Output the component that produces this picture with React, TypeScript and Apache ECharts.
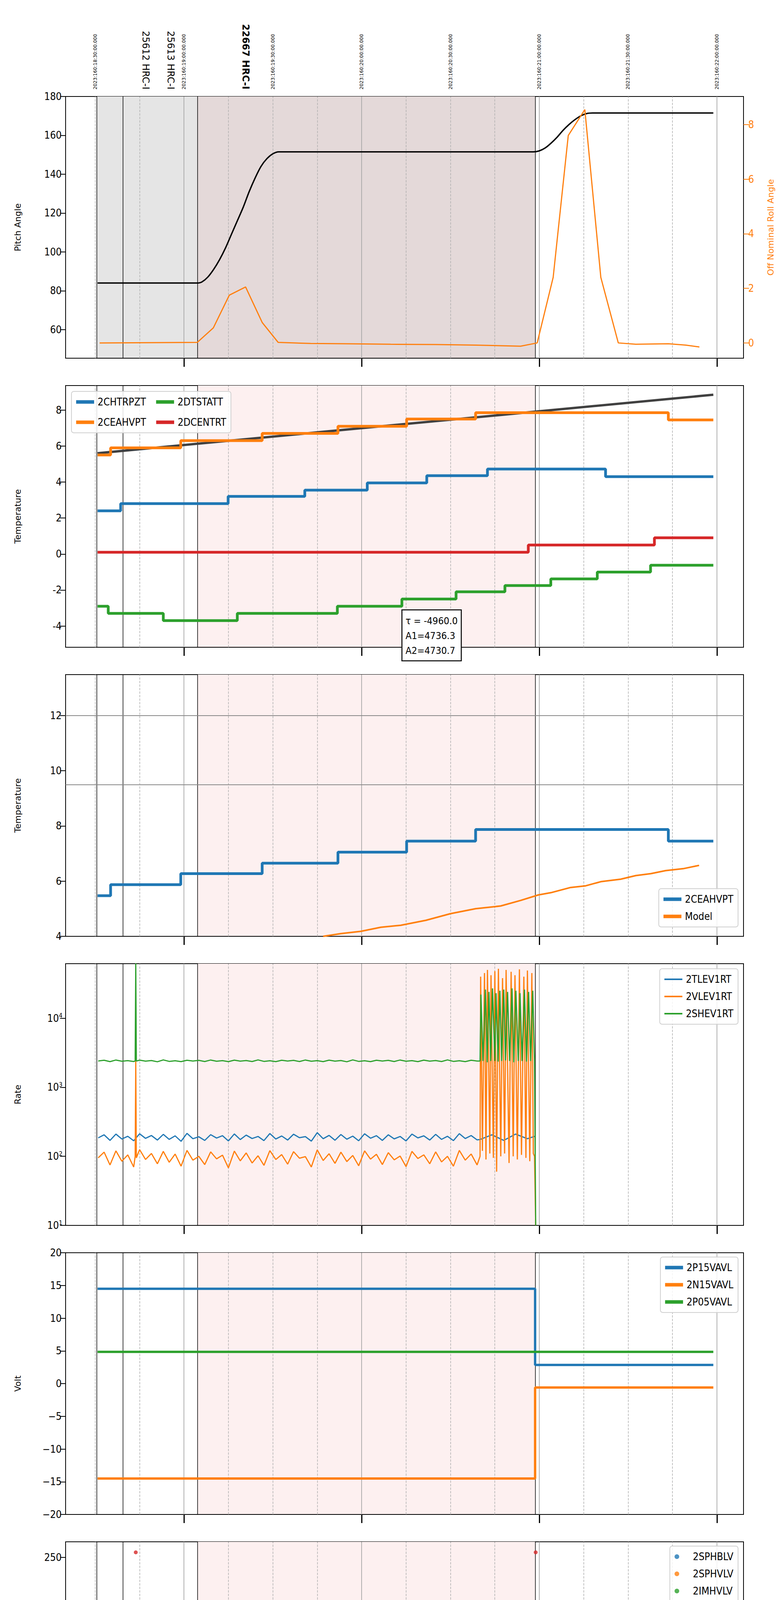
import React, { useEffect, useRef } from "react";
import * as echarts from "echarts";

// ---- time: minutes since 2023:160:18:00 UTC ----
const X_MIN = 20;
const X_MAX = 249;
const T_START = 30.8;
const T_END = 238.8;
const OBS_LINES = [30.5, 39.3, 64.6, 178.6];
const DASH_LINES = [30, 45, 75, 90, 105, 135, 150, 165, 195, 210, 225];
const HOUR_LINES = [60, 120, 180, 240];
const TOP_DATE_TICKS = [30, 60, 90, 120, 150, 180, 210, 240];
const OBS_LABEL_POS = [47, 55.5, 80.8];
const OBS_LABELS = ["25612 HRC-I", "25613 HRC-I", "22667 HRC-I"];
const BOTTOM_TICKS = [30, 45, 60, 75, 90, 105, 120, 135, 150, 165, 180, 195, 210, 225, 240];

// panel 1
const PITCH = [[30.8, 84], [64.6, 84], [66, 84.5], [68, 87], [70, 91], [72, 96], [74, 102], [76, 109], [78, 116], [80, 123], [82, 131], [84, 138], [86, 144], [88, 148], [90, 150.5], [92, 151.5], [178, 151.5], [180, 152], [182, 153.5], [184, 156], [186, 159], [188, 162.5], [190, 165.5], [192, 168], [194, 170], [196, 171.2], [198, 171.5], [238.8, 171.5]];
const ROLL = [[31.5, 0.0], [64.5, 0.02], [69.9, 0.55], [75.3, 1.75], [80.8, 2.05], [86.4, 0.75], [91.8, 0.02], [102.8, -0.02], [114.6, -0.03], [129.8, -0.05], [145, -0.06], [158.5, -0.08], [173.7, -0.12], [179.3, 0.0], [184.7, 2.4], [189.8, 7.6], [195.4, 8.55], [200.8, 2.4], [206.7, 0.0], [212.6, -0.05], [223.6, -0.03], [229.5, -0.08], [234.1, -0.15]];

// panel 2
const CHTRPZT_T = [30.8, 38.6, 74.9, 100.8, 121.9, 142, 162.5, 202.4];
const CHTRPZT_V = [2.4, 2.8, 3.2, 3.55, 3.95, 4.35, 4.72, 4.3];
const CEAHVPT_T = [30.8, 35.2, 58.9, 86.4, 112, 135.2, 158.5, 223.6];
const CEAHVPT_V = [5.5, 5.9, 6.3, 6.7, 7.1, 7.5, 7.85, 7.45];
const DTSTATT_T = [30.8, 34.4, 53, 78, 111.8, 133.6, 151.9, 168.4, 183.9, 199.6, 217.6];
const DTSTATT_V = [-2.9, -3.3, -3.7, -3.3, -2.9, -2.5, -2.1, -1.75, -1.38, -1.0, -0.62];
const DCENTRT_T = [30.8, 176.3, 218.9];
const DCENTRT_V = [0.1, 0.5, 0.9];
const FIT_LINE = [[30.8, 5.6], [238.8, 8.85]];

// panel 3
const CEAHVPT2_V = [5.47, 5.87, 6.27, 6.65, 7.05, 7.45, 7.87, 7.45];
const MODEL = [[107, 4.0], [113, 4.1], [119.7, 4.18], [126.5, 4.33], [133.2, 4.4], [141.7, 4.58], [150, 4.82], [158.5, 5.0], [167, 5.1], [173.7, 5.3], [179.7, 5.5], [183.9, 5.58], [190.6, 5.77], [195.7, 5.83], [200.8, 5.98], [207.5, 6.07], [212.6, 6.2], [217.7, 6.27], [222.7, 6.38], [228.6, 6.45], [234, 6.57]];

// panel 4 (2-min samples from 31 min)
const TLEV_BASE = [185, 205, 170, 210, 178, 195, 168, 212, 182, 200, 172, 208, 176, 198, 165, 215, 180, 192, 170, 206, 184, 199, 167, 211, 175, 203, 181, 194, 169, 214, 178, 197, 172, 209, 186, 193, 166, 220, 180, 201, 171, 207, 177, 196, 168, 212, 183, 199, 170, 205, 179, 194, 167, 210, 185, 198, 172, 208, 176, 195, 169, 213, 181, 200, 173, 206, 178, 192, 166, 211, 184, 197, 171, 204, 180];
const VLEV_BASE = [95, 115, 75, 120, 85, 105, 70, 125, 90, 110, 78, 118, 82, 108, 72, 122, 88, 100, 76, 116, 92, 104, 68, 119, 86, 112, 80, 102, 74, 121, 90, 106, 77, 117, 94, 99, 70, 124, 87, 109, 79, 115, 84, 103, 73, 120, 91, 107, 76, 113, 89, 101, 71, 118, 93, 105, 78, 116, 83, 100, 72, 122, 88, 108, 75];
const SHEV_BASE = [2400, 2460, 2350, 2480, 2380, 2430, 2360, 2470, 2390, 2440, 2340, 2490, 2370, 2420, 2350, 2460, 2400, 2450, 2360, 2480, 2380, 2430, 2350, 2470, 2390, 2440, 2360, 2490, 2370, 2420, 2350, 2460, 2400, 2450, 2360, 2480, 2380, 2430, 2350, 2470, 2390, 2440, 2340, 2490, 2370, 2420, 2350, 2460, 2400, 2450, 2360, 2480, 2380, 2430, 2350, 2470, 2390, 2440, 2360, 2490, 2370, 2420, 2350, 2460, 2400];
const VLEV_SPIKE = [[43.5, 100], [43.7, 2500], [43.9, 95]];
const SHEV_SPIKE = [[43.5, 2400], [43.7, 62000], [43.9, 2400]];
const VLEV_TAIL = [[160, 100], [160.2, 40000], [160.8, 120], [161.5, 45000], [162, 90], [162.5, 50000], [163.3, 110], [163.7, 42000], [164.5, 95], [165, 48000], [165.6, 60], [166.2, 52000], [167, 100], [167.6, 38000], [168.3, 110], [168.8, 50000], [169.8, 80], [170.5, 47000], [171.2, 100], [171.8, 42000], [172.6, 90], [173.3, 51000], [174, 105], [174.8, 40000], [175.5, 95], [176, 49000], [176.8, 85], [177.5, 45000], [178, 110], [178.4, 100], [178.8, 10]];
const SHEV_TAIL = [[160, 2400], [160.3, 22000], [161, 2400], [161.8, 26000], [162.4, 2300], [163, 24000], [163.6, 2400], [164.2, 27000], [165, 2400], [165.4, 23000], [166.1, 2350], [166.7, 25000], [167.3, 2400], [168, 26000], [168.6, 2450], [169.3, 24000], [170, 2400], [170.8, 27000], [171.4, 2300], [172.1, 25000], [172.9, 2400], [173.5, 23000], [174.2, 2400], [175, 26000], [175.7, 2350], [176.4, 24000], [177.1, 2400], [177.8, 25000], [178.4, 2400], [178.8, 10]];
const TLEV_TAIL = [[160, 175], [164, 205], [168, 170], [172, 210], [176, 180], [178.5, 195]];

// panel 5
const P15_T = [30.8, 178.6];
const P15_V = [14.5, 2.85];
const N15_T = [30.8, 178.6];
const N15_V = [-14.5, -0.6];
const P05_T = [30.8];
const P05_V = [4.85];

// panel 6
const IMHBLV_LINE = [[30.8, 86], [178.6, 86]];
const IMHVLV_LINE = [[30.8, 79], [178.6, 79]];
const IMHBLV_PTS = [[43.7, 255], [178.8, 255], [160, 79], [166.5, 79], [173.2, 79], [177, 79]];
const IMHVLV_PTS = [[160, 127], [177, 127]];

// panel 7
const OSC_T = [160, 160.8, 161.6, 162.2, 163, 163.8, 164.5, 165.3, 166, 166.9, 167.6, 168.4, 169.1, 170, 170.7, 171.5, 172.3, 173.1, 173.8, 174.6, 175.4, 176.2, 177, 177.8];
const IMHVATM_T = [30.8, 40.3, 53, 68.7, 85.9, 105.3, 126, 146.2];
const IMHVATM_V = [15.25, 15.55, 15.8, 16.1, 16.35, 16.65, 16.95, 17.25];
const IMHVATM_OSC = [17.55, 15.8, 17.55, 15.8, 17.55, 15.8, 17.55, 15.8, 17.55, 15.8, 17.55, 15.8, 17.55, 15.8, 17.55, 15.8, 17.55, 15.8, 17.55, 15.8, 17.55, 15.8, 17.55, 17.55];
const SPHVATM_T = [30.8, 42.3, 61.8, 84.2, 108.7, 130.7, 151];
const SPHVATM_V = [14.15, 14.45, 14.7, 14.95, 15.25, 15.55, 15.85];
const SPHVATM_OSC = [10.9, 15.85, 10.9, 15.85, 10.9, 15.85, 10.9, 15.85, 10.9, 15.85, 10.9, 15.85, 10.9, 15.85, 10.9, 15.85, 0, 15.85, 10.9, 15.85, 10.9, 15.85, 10.9, 16.1];
const SPINATM_T = [30.8, 39.1, 55.2];
const SPINATM_V = [3.7, 3.25, 2.8];
const SPINATM_OSC = [0, 2.8, 0, 3.25, 0, 3.25, 0, 3.25, 0, 3.25, 0, 3.25, 0, 3.25, 0, 3.25, 0, 3.25, 0, 3.25, 0, 3.25, 0, 3.25];
const IMINATM_T = [30.8, 110.4];
const IMINATM_V = [1.05, 1.5];
const IMINATM_OSC = [3.25, 0, 1.5, 3.25, 0, 3.25, 1.5, 0, 3.25, 1.5, 3.25, 0, 3.25, 1.5, 0, 3.25, 1.5, 0, 3.25, 1.5, 3.25, 0, 3.25, 1.5];
const DET_RED_DROPS = [[[43.7, 15.55], [43.7, -1]], [[179, -1], [179, 19]]];
const DET_ORANGE_DROP = [[172.9, 15.85], [172.9, 0]];

// panel 8
const FHTRMZT_T = [30.8, 32.7, 42.3, 52.5, 63.1, 74.4, 85.1, 94.9, 103.6, 112.6, 120.9, 129.3, 138.3, 147.1, 156, 165, 174.6, 187.6, 192.7, 223.9];
const FHTRMZT_V = [-6.4, -6.0, -5.6, -5.2, -4.8, -4.45, -4.05, -3.65, -3.3, -2.9, -2.5, -2.1, -1.75, -1.38, -1.0, -0.6, -0.25, 0.15, -0.22, -0.6];
const FRADPYT_T = [30.8, 34.7, 45.9, 57.5, 69.5, 80.5, 87.1, 93.5, 98.9, 105.3, 111.8, 118.9, 126.5, 134.6, 143.7, 152.6, 161.6, 171.2, 202.5, 228.4];
const FRADPYT_V = [-8.8, -8.4, -8.0, -7.6, -7.2, -6.8, -6.4, -6.0, -5.6, -5.2, -4.8, -4.4, -4.05, -3.65, -3.3, -2.9, -2.5, -2.15, -2.5, -2.9];
const FEPRATM_T = [30.8, 35.2, 45.4, 56, 66.5, 79.2, 91, 102.8, 113.8, 124.4, 135.4, 145.9, 156.9];
const FEPRATM_V = [-3.05, -2.65, -2.25, -1.85, -1.45, -1.0, -0.6, -0.2, 0.2, 0.6, 1.05, 1.5, 1.9];
const FEPRATM_OSC = [-4.65, 2.35, -4.65, 2.35, -4.65, 2.35, -4.65, 2.35, -4.65, 2.35, -4.65, 2.35, -4.65, 2.35, -4.65, 2.35, -4.65, 2.35, -4.65, 2.35, -4.65, 2.35, -4.65, 2.35];
const FE00ATM_T = [30.8, 34.4, 41.7, 49.6, 57.5, 66.5, 75.8, 84.8, 92.7, 99.8, 107.9, 114.3, 120.6, 128.2, 135, 142.6, 150.6, 156.9];
const FE00ATM_V = [-3.5, -3.15, -2.8, -2.45, -2.1, -1.8, -1.45, -1.1, -0.8, -0.45, -0.15, 0.15, 0.5, 0.8, 1.1, 1.45, 1.75, 2.05];
const FE00ATM_OSC = [2.6, 2.2, 2.6, 2.3, 2.6, 2.2, 2.6, 2.3, 2.6, 2.2, 2.6, 2.3, 2.6, 2.2, 2.6, 2.3, 2.6, 2.2, 2.6, 2.3, 2.6, 2.2, 2.6, 2.6];
const FEA_RED_DROPS = [[[43.7, -2.8], [43.7, -10]], [[165.8, 2.4], [165.8, -10]], [[172.9, 2.4], [172.9, -10]], [[179, -10], [179, 3]]];

const C = { blue: "#1f77b4", orange: "#ff7f0e", green: "#2ca02c", red: "#d62728" };
const CF = "DejaVu Sans Condensed, DejaVu Sans, sans-serif";
const SF = "DejaVu Sans, sans-serif";

const GRID_TOPS = [247, 987, 1727, 2467, 3207, 3947, 4687, 5427];
const GRID_H = 670;

function steps(ts: number[], vs: number[], osc?: number[]) {
  const d: number[][] = ts.map((t, i) => [t, vs[i]]);
  if (osc) {
    OSC_T.forEach((t, i) => d.push([t, osc[i]]));
    d.push([178.3, osc[osc.length - 1]]);
  } else {
    d.push([T_END, vs[vs.length - 1]]);
  }
  return d;
}

function rateSeries(base: number[], spike: number[][], tail: number[][]) {
  const d: number[][] = [];
  base.forEach((v, i) => {
    const t = 31 + 2 * i;
    if (t < 160) d.push([t, v]);
  });
  spike.forEach((p) => d.push(p));
  tail.forEach((p) => d.push(p));
  d.sort((a, b) => a[0] - b[0]);
  return d;
}

export default function App() {
  const ref = useRef<HTMLDivElement>(null);
  useEffect(() => {
    document.body.style.margin = "0";
    const chart = echarts.init(ref.current!, null, { renderer: "svg" });

    const grids = GRID_TOPS.map((t) => ({
      left: 168, right: 96, top: t, height: GRID_H, show: true,
      borderColor: "#000", borderWidth: 2, backgroundColor: "transparent",
    }));

    const xAxes: any[] = GRID_TOPS.map((_, i) => ({
      type: "value", gridIndex: i, min: X_MIN, max: X_MAX, position: "bottom",
      axisLine: { show: true, onZero: false, lineStyle: { color: "#000", width: 2 } },
      axisTick: { show: true, customValues: HOUR_LINES, length: 22, lineStyle: { color: "#000", width: 3 } },
      splitLine: { show: false },
      axisLabel: i === 7 ? {
        show: true, customValues: BOTTOM_TICKS, margin: 10,
        formatter: (v: number) => (v % 60 === 0 ? `{h|${v / 60 + 14}h}` : `{m|${v % 60}}`),
        rich: { h: { fontSize: 27, fontFamily: CF, color: "#000", padding: [22, 0, 0, 0] }, m: { fontSize: 15, fontFamily: CF, color: "#000" } },
      } : { show: false },
      name: i === 7 ? "2023-06-09 (160)" : "", nameLocation: "middle", nameGap: 82,
      nameTextStyle: { fontSize: 28, fontFamily: CF, color: "#000" },
    }));
    xAxes.push({
      type: "value", gridIndex: 0, min: X_MIN, max: X_MAX, position: "top",
      axisLine: { show: false }, axisTick: { show: false }, splitLine: { show: false },
      axisLabel: {
        customValues: TOP_DATE_TICKS, rotate: 90, margin: 18, fontSize: 12, fontFamily: SF, color: "#000",
        formatter: (v: number) => {
          const h = 18 + Math.floor(v / 60);
          const m = v % 60;
          return `2023:160:${h}:${m === 0 ? "00" : m}:00.000`;
        },
      },
    });
    xAxes.push({
      type: "value", gridIndex: 0, min: X_MIN, max: X_MAX, position: "top",
      axisLine: { show: false }, axisTick: { show: false }, splitLine: { show: false },
      axisLabel: {
        customValues: OBS_LABEL_POS, rotate: 90, margin: 18, fontSize: 24, fontFamily: SF, color: "#000",
        formatter: (v: number) => {
          const i = OBS_LABEL_POS.indexOf(v);
          return i === 2 ? `{b|${OBS_LABELS[i]}}` : OBS_LABELS[i];
        },
        rich: { b: { fontSize: 24, fontWeight: "bold", fontFamily: SF, color: "#000" } },
      },
    });
    xAxes.push({
      type: "value", gridIndex: 7, min: X_MIN, max: X_MAX, position: "bottom",
      axisLine: { show: false }, splitLine: { show: false }, axisLabel: { show: false },
      axisTick: { show: true, customValues: BOTTOM_TICKS, length: 9, lineStyle: { color: "#000", width: 2 } },
    });

    const yBase = (i: number, name: string, min: number, max: number, ticks: number[], fmt: (v: number) => string) => ({
      type: "value", gridIndex: i, min, max, name, nameLocation: "middle", nameGap: 112,
      nameTextStyle: { fontSize: 22, fontFamily: SF, color: "#000" },
      axisLine: { show: true, lineStyle: { color: "#000", width: 2 } },
      axisTick: { show: true, customValues: ticks, length: 14, lineStyle: { color: "#000", width: 2 } },
      axisLabel: { customValues: ticks, fontSize: 26, fontFamily: CF, color: "#000", margin: 10, formatter: fmt },
      splitLine: { show: false },
    });
    const minus = (v: number) => (v < 0 ? "\u2212" + Math.abs(v) : String(v));
    const yAxes: any[] = [
      yBase(0, "Pitch Angle", 45.3, 180, [60, 80, 100, 120, 140, 160, 180], (v) => String(v)),
      yBase(1, "Temperature", -5.18, 9.36, [-4, -2, 0, 2, 4, 6, 8], (v) => String(v)),
      yBase(2, "Temperature", 4, 13.48, [4, 6, 8, 10, 12], (v) => String(v)),
      {
        type: "log", logBase: 10, gridIndex: 3, min: 10, max: 61600, name: "Rate", nameLocation: "middle", nameGap: 112,
        nameTextStyle: { fontSize: 22, fontFamily: SF, color: "#000" },
        axisLine: { show: true, lineStyle: { color: "#000", width: 2 } },
        axisTick: { show: true, length: 14, lineStyle: { color: "#000", width: 2 } },
        axisLabel: {
          fontSize: 26, fontFamily: CF, color: "#000", showMaxLabel: false,
          formatter: (v: number) => {
            const e = Math.round(Math.log10(v));
            return `10{s|${e}}`;
          },
          rich: { s: { fontSize: 16, fontFamily: CF, color: "#000", verticalAlign: "top", padding: [0, 0, 14, 0] } },
        },
        splitLine: { show: false },
      },
      yBase(4, "Volt", -20, 20, [-20, -15, -10, -5, 0, 5, 10, 15, 20], minus),
      yBase(5, "HV Monitor", 0, 265.7, [0, 50, 100, 150, 200, 250], (v) => String(v)),
      yBase(6, "Detector Temp", -0.41, 18.43, [0, 2.5, 5, 7.5, 10, 12.5, 15, 17.5], (v) => v.toFixed(1)),
      yBase(7, "FEA Temp", -9.08, 2.61, [-8, -6, -4, -2, 0, 2], minus),
      {
        type: "value", gridIndex: 0, position: "right", min: -0.56, max: 9.03, name: "Off Nominal Roll Angle",
        nameLocation: "middle", nameGap: 58, nameRotate: 90,
        nameTextStyle: { fontSize: 22, fontFamily: SF, color: C.orange },
        axisLine: { show: true, lineStyle: { color: "#000", width: 2 } },
        axisTick: { show: true, customValues: [0, 2, 4, 6, 8], length: 14, lineStyle: { color: C.orange, width: 2 } },
        axisLabel: { customValues: [0, 2, 4, 6, 8], fontSize: 26, fontFamily: CF, color: C.orange, margin: 12 },
        splitLine: { show: false },
      },
    ];

    const vline = (x: number, color: string, type: string, width: number) => ({
      xAxis: x, lineStyle: { color, type, width },
    });
    const decor = (i: number) => {
      const areas = i === 0
        ? [[{ xAxis: 30.5, itemStyle: { color: "#e5e5e5" } }, { xAxis: 64.6 }], [{ xAxis: 64.6, itemStyle: { color: "#e4d9d9" } }, { xAxis: 178.6 }]]
        : [[{ xAxis: 64.6, itemStyle: { color: "#fdf0f0" } }, { xAxis: 178.6 }]];
      const lines: any[] = [
        ...DASH_LINES.map((x) => vline(x, "#b0b0b0", "dashed", 1.5)),
        ...HOUR_LINES.map((x) => vline(x, "#a8a8a8", "solid", 1.8)),
        ...OBS_LINES.map((x) => vline(x, "#000", "solid", 1.5)),
      ];
      if (i === 2) {
        lines.push({ yAxis: 12, lineStyle: { color: "#888", type: "solid", width: 1.8 } });
        lines.push({ yAxis: 9.5, lineStyle: { color: "#888", type: "solid", width: 1.8 } });
      }
      return {
        type: "line", xAxisIndex: i, yAxisIndex: i, data: [], silent: true, z: 1,
        markArea: { silent: true, data: areas, z: 0 },
        markLine: { silent: true, symbol: "none", label: { show: false }, data: lines, z: 1 },
      };
    };

    const line = (name: string, i: number, data: any[], color: string, width: number, extra: any = {}) => ({
      type: "line", name, xAxisIndex: i, yAxisIndex: i, data, showSymbol: false, symbol: "none",
      lineStyle: { color, width }, itemStyle: { color }, z: 3, ...extra,
    });

    const series: any[] = [];
    for (let i = 0; i < 8; i++) series.push(decor(i));

    // panel 1
    series.push(line("Pitch", 0, PITCH, "#000", 3.5, { smooth: 0.3 }));
    series.push({ ...line("Roll", 0, ROLL, C.orange, 3), yAxisIndex: 8 });
    // panel 2
    series.push(line("fit", 1, FIT_LINE, "#404040", 6));
    series.push(line("2CHTRPZT", 1, steps(CHTRPZT_T, CHTRPZT_V), C.blue, 7, { step: "end" }));
    series.push(line("2CEAHVPT", 1, steps(CEAHVPT_T, CEAHVPT_V), C.orange, 7, { step: "end" }));
    series.push(line("2DTSTATT", 1, steps(DTSTATT_T, DTSTATT_V), C.green, 7, { step: "end" }));
    series.push(line("2DCENTRT", 1, steps(DCENTRT_T, DCENTRT_V), C.red, 7, { step: "end" }));
    // panel 3
    series.push(line("2CEAHVPT", 2, steps(CEAHVPT_T, CEAHVPT2_V), C.blue, 7, { step: "end" }));
    series.push(line("Model", 2, MODEL, C.orange, 4));
    // panel 4
    series.push(line("2TLEV1RT", 3, rateSeries(TLEV_BASE, [], TLEV_TAIL), C.blue, 3));
    series.push(line("2VLEV1RT", 3, rateSeries(VLEV_BASE, VLEV_SPIKE, VLEV_TAIL), C.orange, 3));
    series.push(line("2SHEV1RT", 3, rateSeries(SHEV_BASE, SHEV_SPIKE, SHEV_TAIL), C.green, 3));
    // panel 5
    series.push(line("2P15VAVL", 4, steps(P15_T, P15_V), C.blue, 6, { step: "end" }));
    series.push(line("2N15VAVL", 4, steps(N15_T, N15_V), C.orange, 6, { step: "end" }));
    series.push(line("2P05VAVL", 4, steps(P05_T, P05_V), C.green, 6, { step: "end" }));
    // panel 6
    const sc = (name: string, data: any[], color: string) => ({
      type: "scatter", name, xAxisIndex: 5, yAxisIndex: 5, data, symbolSize: 10, itemStyle: { color }, z: 4,
    });
    series.push(sc("2SPHBLV", [], C.blue));
    series.push(sc("2SPHVLV", [], C.orange));
    series.push(sc("2IMHVLV", IMHVLV_PTS, C.green));
    series.push(sc("2IMHBLV", IMHBLV_PTS, C.red));
    series.push(line("2IMHBLV", 5, IMHBLV_LINE, C.red, 10, { lineStyle: { color: C.red, width: 10, cap: "round" } }));
    series.push(line("2IMHVLV", 5, IMHVLV_LINE, C.green, 10, { lineStyle: { color: C.green, width: 10, cap: "round" } }));
    // panel 7
    series.push(line("2SPINATM", 6, steps(SPINATM_T, SPINATM_V, SPINATM_OSC), C.blue, 6, { step: "end" }));
    series.push(line("2SPHVATM", 6, steps(SPHVATM_T, SPHVATM_V, SPHVATM_OSC), C.orange, 6, { step: "end" }));
    series.push(line("2SPHVATM", 6, DET_ORANGE_DROP, C.orange, 5));
    series.push(line("2IMINATM", 6, steps(IMINATM_T, IMINATM_V, IMINATM_OSC), C.green, 6, { step: "end" }));
    series.push(line("2IMHVATM", 6, steps(IMHVATM_T, IMHVATM_V, IMHVATM_OSC), C.red, 6, { step: "end" }));
    DET_RED_DROPS.forEach((d, k) => series.push(line("2IMHVATM", 6, d, C.red, k === 1 ? 11 : 5)));
    // panel 8
    series.push(line("2FHTRMZT", 7, steps(FHTRMZT_T, FHTRMZT_V), C.blue, 6, { step: "end" }));
    series.push(line("2FRADPYT", 7, steps(FRADPYT_T, FRADPYT_V), C.orange, 6, { step: "end" }));
    series.push(line("2FEPRATM", 7, steps(FEPRATM_T, FEPRATM_V, FEPRATM_OSC), C.green, 6, { step: "end" }));
    series.push(line("2FE00ATM", 7, steps(FE00ATM_T, FE00ATM_V, FE00ATM_OSC), C.red, 6, { step: "end" }));
    FEA_RED_DROPS.forEach((d, k) => series.push(line("2FE00ATM", 7, d, C.red, k === 3 ? 11 : 5)));

    const lg = (items: any[], pos: any, icon = "rect", extra: any = {}) => ({
      ...pos, orient: "vertical", icon, itemWidth: icon === "circle" ? 12 : 46, itemHeight: icon === "circle" ? 12 : 9,
      itemGap: 18, padding: [14, 12, 14, 12], backgroundColor: "rgba(255,255,255,0.85)",
      borderColor: "#d0d0d0", borderWidth: 2, borderRadius: 6,
      textStyle: { fontSize: 26, fontFamily: CF, color: "#000", padding: [0, 0, 0, icon === "circle" ? 30 : 4] },
      selectedMode: false, data: items, ...extra,
    });
    const it = (name: string, color: string) => ({ name, itemStyle: { color }, lineStyle: { color } });
    const legends = [
      lg([it("2CHTRPZT", C.blue), it("2DTSTATT", C.green), it("2CEAHVPT", C.orange), it("2DCENTRT", C.red)],
        { left: 183, top: 1002 }, "rect", { orient: "horizontal", width: 470, itemGap: 26 }),
      lg([it("2CEAHVPT", C.blue), it("Model", C.orange)], { right: 110, top: 2275 }),
      lg([it("2TLEV1RT", C.blue), it("2VLEV1RT", C.orange), it("2SHEV1RT", C.green)], { right: 110, top: 2480 }, "rect", { itemHeight: 4 }),
      lg([it("2P15VAVL", C.blue), it("2N15VAVL", C.orange), it("2P05VAVL", C.green)], { right: 110, top: 3218 }),
      lg([it("2SPHBLV", C.blue), it("2SPHVLV", C.orange), it("2IMHVLV", C.green), it("2IMHBLV", C.red)], { right: 110, top: 3958 }, "circle"),
      lg([it("2SPINATM", C.blue), it("2SPHVATM", C.orange), it("2IMINATM", C.green), it("2IMHVATM", C.red)], { right: 110, top: 4698 }),
      lg([it("2FHTRMZT", C.blue), it("2FRADPYT", C.orange), it("2FEPRATM", C.green), it("2FE00ATM", C.red)], { right: 110, top: 5900 }),
    ];

    chart.setOption({
      animation: false,
      backgroundColor: "#fff",
      grid: grids,
      xAxis: xAxes,
      yAxis: yAxes,
      legend: legends,
      series,
      graphic: [{
        type: "text", left: 1028, top: 1560, z: 100,
        style: {
          text: "\u03c4 = -4960.0\nA1=4736.3\nA2=4730.7", fontSize: 25, fontFamily: CF, fill: "#000",
          lineHeight: 38, backgroundColor: "#fff", borderColor: "#000", borderWidth: 2.5, padding: [8, 8, 6, 8],
        },
      }],
    });
    return () => chart.dispose();
  }, []);
  return <div ref={ref} style={{ width: 2000, height: 6200 }} />;
}
